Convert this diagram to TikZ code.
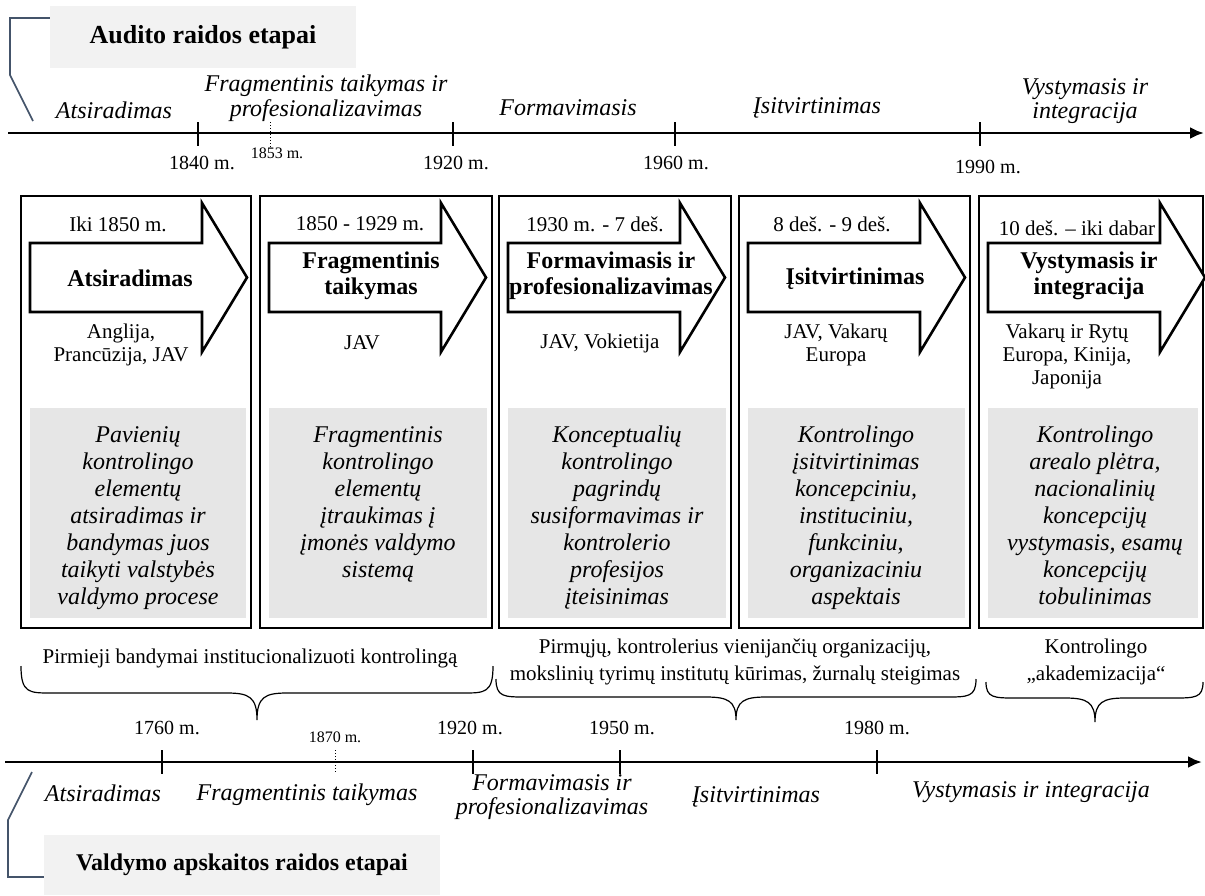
\documentclass[tikz,border=0pt]{standalone}
\usepackage{fontspec}
\setmainfont{Liberation Serif}
\usetikzlibrary{arrows.meta}
\definecolor{graybg}{HTML}{E6E6E6}
\definecolor{titlebg}{HTML}{F2F2F2}
\definecolor{slate}{HTML}{44546A}
\newcommand\fs[2]{\fontsize{#1}{#2}\selectfont}
\newcommand\curlybrace[6]{%
  \draw[bracestyle] (#1,#4) .. controls (#1,#5) and (#1+8,#5) .. (#1+30,#5) -- (#3-30,#5)
    .. controls (#3-8,#5) and (#3,#5+4) .. (#3,#6)
    .. controls (#3,#5+4) and (#3+8,#5) .. (#3+30,#5) -- (#2-30,#5)
    .. controls (#2-8,#5) and (#2,#5) .. (#2,#4);}
\newcommand\stagebox[2]{%
  \draw[boxline] (#1,196) rectangle (#2,628);
  \fill[graybg] (#1+9,408) rectangle (#2-5,618);
  \draw[bigarrow] (#1+9,243) -- (#1+181,243) -- (#1+181,203) -- (#1+226,277.5)
    -- (#1+181,352) -- (#1+181,312) -- (#1+9,312) -- cycle;}
\begin{document}
\begin{tikzpicture}[x=1pt,y=-1pt,
  boxline/.style={draw=black,line width=2.4pt},
  bigarrow/.style={draw=black,fill=white,line width=2.6pt,line join=miter},
  axisline/.style={line width=2.8pt,-{Latex[length=14pt,width=12pt]}},
  tickline/.style={line width=2.4pt},
  dottick/.style={line width=1pt,dotted},
  axlab/.style={font={\fs{24}{24.5}\itshape},align=center,inner sep=0},
  yearlab/.style={font={\fs{20}{22}},inner sep=0},
  smallyear/.style={font={\fs{16}{18}},inner sep=0},
  datelab/.style={font={\fs{21}{23}},inner sep=0},
  boldlab/.style={font={\fs{24}{26}\bfseries},align=center,inner sep=0},
  countrylab/.style={font={\fs{21}{23}},align=center,inner sep=0},
  graytext/.style={font={\fs{24}{27}\itshape},align=center,inner sep=0,anchor=north},
  grouplab/.style={font={\fs{21}{26.5}},align=center,inner sep=0},
  titlebox/.style={fill=titlebg,inner sep=0,font={\fs{26}{28}\bfseries}},
  bracket/.style={draw=slate,line width=1.6pt},
  bracestyle/.style={draw=black,line width=1.2pt}
]
\useasboundingbox (0,0) rectangle (1205,895);

% ---------- top title ----------
\node[titlebox,minimum width=306pt,minimum height=62pt] (t1) at (203,37) {Audito raidos etapai};
\draw[bracket] (t1.north west |- 0,18) -- (10,18) -- (10,75) -- (33,121);

% ---------- top axis ----------
\coordinate (ta0) at (8,133);
\coordinate (ta1) at (1204,133);
\draw[axisline] (ta0) -- (ta1);
\draw[tickline] (198,122) -- (198,146);
\draw[tickline] (453,122) -- (453,146);
\draw[tickline] (675,122) -- (675,146);
\draw[tickline] (980,122) -- (980,146);
\draw[dottick] (270,122) -- (270,147);

\node[yearlab] (y1840) at (202,163) {1840 m.};
\node[smallyear] (y1853) at (277,153) {1853 m.};
\node[yearlab] (y1920) at (456,163) {1920 m.};
\node[yearlab] (y1960) at (676,163) {1960 m.};
\node[yearlab] (y1990) at (988,167) {1990 m.};

\node[axlab] (ta) at (114,110) {Atsiradimas};
\node[axlab] (tf) at (326,98) {Fragmentinis taikymas ir\\profesionalizavimas};
\node[axlab] (tfo) at (568,108) {Formavimasis};
\node[axlab] (ti) at (817,108) {Įsitvirtinimas};
\node[axlab] (tv) at (1085,101) {Vystymasis ir\\integracija};

% ---------- stage boxes ----------
\stagebox{21}{251}
\stagebox{260}{492}
\stagebox{499}{731}
\stagebox{739}{970}
\stagebox{979}{1203}

% box 1
\node[datelab] (d1) at (118,224) {Iki 1850 m.};
\node[boldlab] (b1) at (130,278) {Atsiradimas};
\node[countrylab] (c1) at (121,345) {Anglija,\\Prancūzija, JAV};
\node[graytext] (g1) at (138,426) {Pavienių\\kontrolingo\\elementų\\atsiradimas ir\\bandymas juos\\taikyti valstybės\\valdymo procese};
% box 2
\node[datelab] (d2) at (360,224) {1850 - 1929 m.};
\node[boldlab] (b2) at (371,276) {Fragmentinis\\taikymas};
\node[countrylab] (c2) at (362,343) {JAV};
\node[graytext] (g2) at (378,426) {Fragmentinis\\kontrolingo\\elementų\\įtraukimas į\\įmonės valdymo\\sistemą};
% box 3
\node[datelab] (d3) at (595,224) {1930 m. - 7 deš.};
\node[boldlab] (b3) at (611,276) {Formavimasis ir\\profesionalizavimas};
\node[countrylab] (c3) at (600,343) {JAV, Vokietija};
\node[graytext] (g3) at (617,426) {Konceptualių\\kontrolingo\\pagrindų\\susiformavimas ir\\kontrolerio\\profesijos\\įteisinimas};
% box 4
\node[datelab] (d4) at (832,224) {8 deš. - 9 deš.};
\node[boldlab] (b4) at (855,279) {Įsitvirtinimas};
\node[countrylab] (c4) at (836,345) {JAV, Vakarų\\Europa};
\node[graytext] (g4) at (856,426) {Kontrolingo\\įsitvirtinimas\\koncepciniu,\\instituciniu,\\funkciniu,\\organizaciniu\\aspektais};
% box 5
\node[datelab] (d5) at (1077,228) {10 deš. – iki dabar};
\node[boldlab] (b5) at (1089,276) {Vystymasis ir\\integracija};
\node[countrylab] (c5) at (1067,356) {Vakarų ir Rytų\\Europa, Kinija,\\Japonija};
\node[graytext] (g5) at (1095,426) {Kontrolingo\\arealo plėtra,\\nacionalinių\\koncepcijų\\vystymasis, esamų\\koncepcijų\\tobulinimas};

% ---------- group labels and braces ----------
\node[grouplab] (p1) at (250,658) {Pirmieji bandymai institucionalizuoti kontrolingą};
\node[grouplab] (p2) at (735,662) {Pirmųjų, kontrolerius vienijančių organizacijų,\\mokslinių tyrimų institutų kūrimas, žurnalų steigimas};
\node[grouplab] (p3) at (1096,662) {Kontrolingo\\„akademizacija“};
\curlybrace{21}{493}{257}{666}{693}{720}
\curlybrace{496}{976}{736}{679}{697}{720}
\curlybrace{986}{1203}{1095}{682}{698}{722}

% ---------- bottom axis ----------
\coordinate (ba0) at (5,762);
\coordinate (ba1) at (1202,762);
\draw[axisline] (ba0) -- (ba1);
\draw[tickline] (162,750) -- (162,774);
\draw[tickline] (473,750) -- (473,774);
\draw[tickline] (620,750) -- (620,774);
\draw[tickline] (877,750) -- (877,774);
\draw[dottick] (335,750) -- (335,773);

\node[yearlab] (z1760) at (167,728) {1760 m.};
\node[smallyear] (z1870) at (335,737) {1870 m.};
\node[yearlab] (z1920) at (470,728) {1920 m.};
\node[yearlab] (z1950) at (622,728) {1950 m.};
\node[yearlab] (z1980) at (877,728) {1980 m.};

\node[axlab] (ba) at (103,793) {Atsiradimas};
\node[axlab] (bf) at (307,795) {Fragmentinis taikymas};
\node[axlab] (bfo) at (552,797) {Formavimasis ir\\profesionalizavimas};
\node[axlab] (bi) at (756,797) {Įsitvirtinimas};
\node[axlab] (bv) at (1031,792) {Vystymasis ir integracija};

% ---------- bottom title ----------
\node[titlebox,minimum width=396pt,minimum height=60pt,font={\fs{24}{26}\bfseries}] (t2) at (242,865) {Valdymo apskaitos raidos etapai};
\draw[bracket] (t2.west |- 0,877) -- (8,877) -- (8,820) -- (32,772);
\end{tikzpicture}
\end{document}
